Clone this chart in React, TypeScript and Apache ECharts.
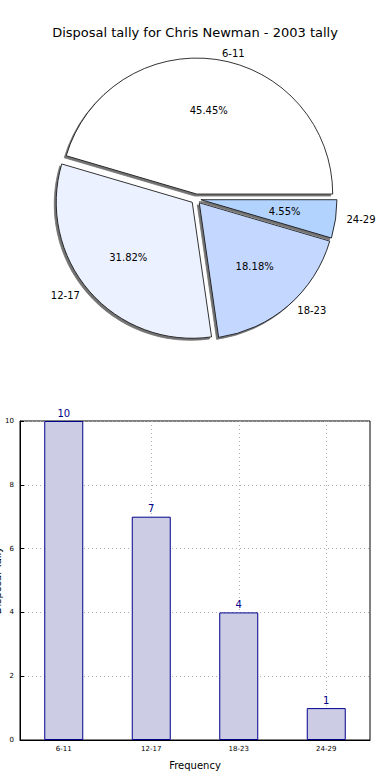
import React, { useEffect, useRef } from "react";
import * as echarts from "echarts";

const title = "Disposal tally for Chris Newman - 2003 tally";
const categories = ["6-11", "12-17", "18-23", "24-29"];
const tallies = [10, 7, 4, 1];
const sliceColors = ["#FFFFFF", "#EBF1FF", "#C4D8FF", "#B3D3FF"];
const yTicks = { min: 0, max: 10, interval: 2 };
const xAxisName = "Frequency";
const yAxisName = "Disposal Tally";

const FONT = "DejaVu Sans";

export default function App() {
  const ref = useRef<HTMLDivElement>(null);
  useEffect(() => {
    if (!ref.current) return;
    const chart = echarts.init(ref.current, null, { renderer: "svg" });
    const total = tallies.reduce((a, b) => a + b, 0);
    const R = 136;
    const pieData = categories.map((c, i) => ({
      name: c,
      value: tallies[i],
      selected: true,
      itemStyle: { color: sliceColors[i] },
    }));
    const pctData = categories.map((c, i) => ({
      name: c,
      value: tallies[i],
      selected: true,
    }));
    chart.setOption({
      animation: false,
      textStyle: { fontFamily: FONT },
      title: {
        text: title,
        left: "center",
        top: 21,
        textStyle: { fontFamily: FONT, fontSize: 13, fontWeight: "normal", color: "#000" },
      },
      grid: {
        left: 20,
        right: 20,
        top: 421,
        bottom: 40,
        containLabel: false,
        outerBoundsMode: "none",
        show: true,
        borderColor: "#000",
        borderWidth: 1,
        backgroundColor: "transparent",
      },
      xAxis: {
        type: "category",
        data: categories,
        boundaryGap: true,
        name: xAxisName,
        nameLocation: "middle",
        nameGap: 20,
        nameMoveOverlap: false,
        nameTextStyle: { fontFamily: FONT, fontSize: 10, color: "#000" },
        axisLine: { show: true, lineStyle: { color: "#000" } },
        axisTick: { show: true, inside: true, alignWithLabel: true, length: 4, lineStyle: { color: "#000" } },
        axisLabel: { fontFamily: FONT, fontSize: 7, color: "#000", margin: 5 },
        splitLine: {
          show: true,
          alignWithLabel: true,
          lineStyle: { color: "#b0b0b0", type: [1, 3], width: 1 },
        },
      },
      yAxis: {
        type: "value",
        min: yTicks.min,
        max: yTicks.max,
        interval: yTicks.interval,
        name: yAxisName,
        nameLocation: "middle",
        nameGap: 18,
        nameMoveOverlap: false,
        nameRotate: 90,
        nameTextStyle: { fontFamily: FONT, fontSize: 10, color: "#000" },
        axisLine: { show: true, lineStyle: { color: "#000" } },
        axisTick: { show: true, inside: true, length: 4, lineStyle: { color: "#000" } },
        axisLabel: { fontFamily: FONT, fontSize: 7, color: "#000", margin: 6 },
        splitLine: { show: true, lineStyle: { color: "#b0b0b0", type: [1, 3], width: 1 } },
      },
      series: [
        {
          type: "pie",
          center: [196, 199],
          radius: [0, R],
          startAngle: 0,
          clockwise: false,
          selectedMode: "multiple",
          selectedOffset: 5,
          avoidLabelOverlap: false,
          silent: true,
          data: pieData,
          itemStyle: {
            borderColor: "#000",
            borderWidth: 0.8,
            shadowColor: "rgba(90,90,90,0.85)",
            shadowBlur: 1,
            shadowOffsetX: -2,
            shadowOffsetY: 2,
          },
          label: {
            show: true,
            position: "outside",
            formatter: "{b}",
            fontFamily: FONT,
            fontSize: 10,
            color: "#000",
          },
          labelLine: { show: false, length: 6, length2: 0 },
          emphasis: { disabled: true },
        },
        {
          type: "pie",
          center: [196, 199],
          radius: [0, R * 1.2],
          startAngle: 0,
          clockwise: false,
          selectedMode: "multiple",
          selectedOffset: 5,
          silent: true,
          data: pctData,
          itemStyle: { color: "rgba(0,0,0,0)", borderWidth: 0 },
          label: {
            show: true,
            position: "inside",
            formatter: (p: any) => ((p.value / total) * 100).toFixed(2) + "%",
            fontFamily: FONT,
            fontSize: 10,
            color: "#000",
          },
          labelLine: { show: false },
          emphasis: { disabled: true },
        },
        {
          type: "bar",
          data: tallies,
          barWidth: 39,
          itemStyle: { color: "#CCCCE5", borderColor: "#00008B", borderWidth: 1 },
          label: {
            show: true,
            position: "top",
            distance: 3,
            fontFamily: FONT,
            fontSize: 10,
            color: "#00008B",
          },
          emphasis: { disabled: true },
          z: 1,
        },
      ],
    });
    return () => chart.dispose();
  }, []);
  return (
    <div
      ref={ref}
      style={{ position: "fixed", left: 0, top: 0, width: 390, height: 780, background: "#fff" }}
    />
  );
}
